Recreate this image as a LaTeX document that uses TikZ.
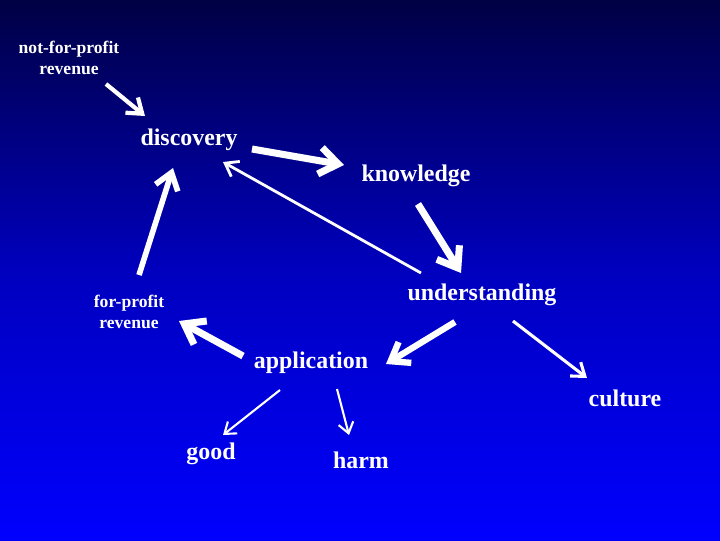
\documentclass[tikz,border=0pt]{standalone}
\usepackage{fontspec}
\setmainfont{Liberation Serif}
\usetikzlibrary{arrows.meta}
\definecolor{topnavy}{RGB}{0,0,68}
\definecolor{midblue}{RGB}{0,0,190}
\definecolor{botblue}{RGB}{0,0,255}
\tikzset{
  word/.style={text=white, font=\bfseries\fontsize{17}{19}\selectfont, inner sep=0pt, align=center},
  small/.style={word, font=\bfseries\fontsize{12.5}{15.5}\selectfont},
  arr/.style 2 args={draw=white, line width=#1, -{Straight Barb[length=#2,width'={0pt 1.45},line width=#1]}},
}
\begin{document}
\begin{tikzpicture}[x=0.025cm,y=-0.025cm]
  \shade[top color=topnavy, bottom color=botblue, middle color=midblue] (0,0) rectangle (720,540);
  \useasboundingbox (0,0) rectangle (720,540);
  % labels
  \node[small] (nfp)  at (69,58)   {not-for-profit\\revenue};
  \node[word]  (disc) at (189,140) {discovery};
  \node[word]  (know) at (416,176) {knowledge};
  \node[word]  (und)  at (482,295) {understanding};
  \node[small] (fp)   at (129,312) {for-profit\\revenue};
  \node[word]  (app)  at (311,363) {application};
  \node[word]  (cult) at (625,398) {culture};
  \node[word]  (good) at (211,454) {good};
  \node[word]  (harm) at (361,460) {harm};
  % arrow ends
  \coordinate (a1) at (106,84);   \coordinate (b1) at (145,116);
  \coordinate (a2) at (252,149);  \coordinate (b2) at (344,165);
  \coordinate (a3) at (418,204);  \coordinate (b3) at (461,273);
  \coordinate (a4) at (421,273);  \coordinate (b4) at (223,162);
  \coordinate (a5) at (455,322);  \coordinate (b5) at (386,364);
  \coordinate (a6) at (513,321);  \coordinate (b6) at (587,378);
  \coordinate (a7) at (243,356);  \coordinate (b7) at (179,321);
  \coordinate (a8) at (139,275);  \coordinate (b8) at (173,168);
  \coordinate (a9) at (280,390);  \coordinate (b9) at (223,435);
  \coordinate (a10) at (337,389); \coordinate (b10) at (349,435);
  \draw[arr={3pt}{3.4mm}] (a1) -- (b1);
  \draw[arr={5pt}{4.6mm}] (a2) -- (b2);
  \draw[arr={5pt}{4.6mm}] (a3) -- (b3);
  \draw[arr={2pt}{3mm}] (a4) -- (b4);
  \draw[arr={4.5pt}{4.2mm}] (a5) -- (b5);
  \draw[arr={2.2pt}{3mm}] (a6) -- (b6);
  \draw[arr={5pt}{4.6mm}] (a7) -- (b7);
  \draw[arr={4pt}{4mm}] (a8) -- (b8);
  \draw[arr={1.5pt}{2.6mm}] (a9) -- (b9);
  \draw[arr={1.5pt}{2.6mm}] (a10) -- (b10);
\end{tikzpicture}
\end{document}
